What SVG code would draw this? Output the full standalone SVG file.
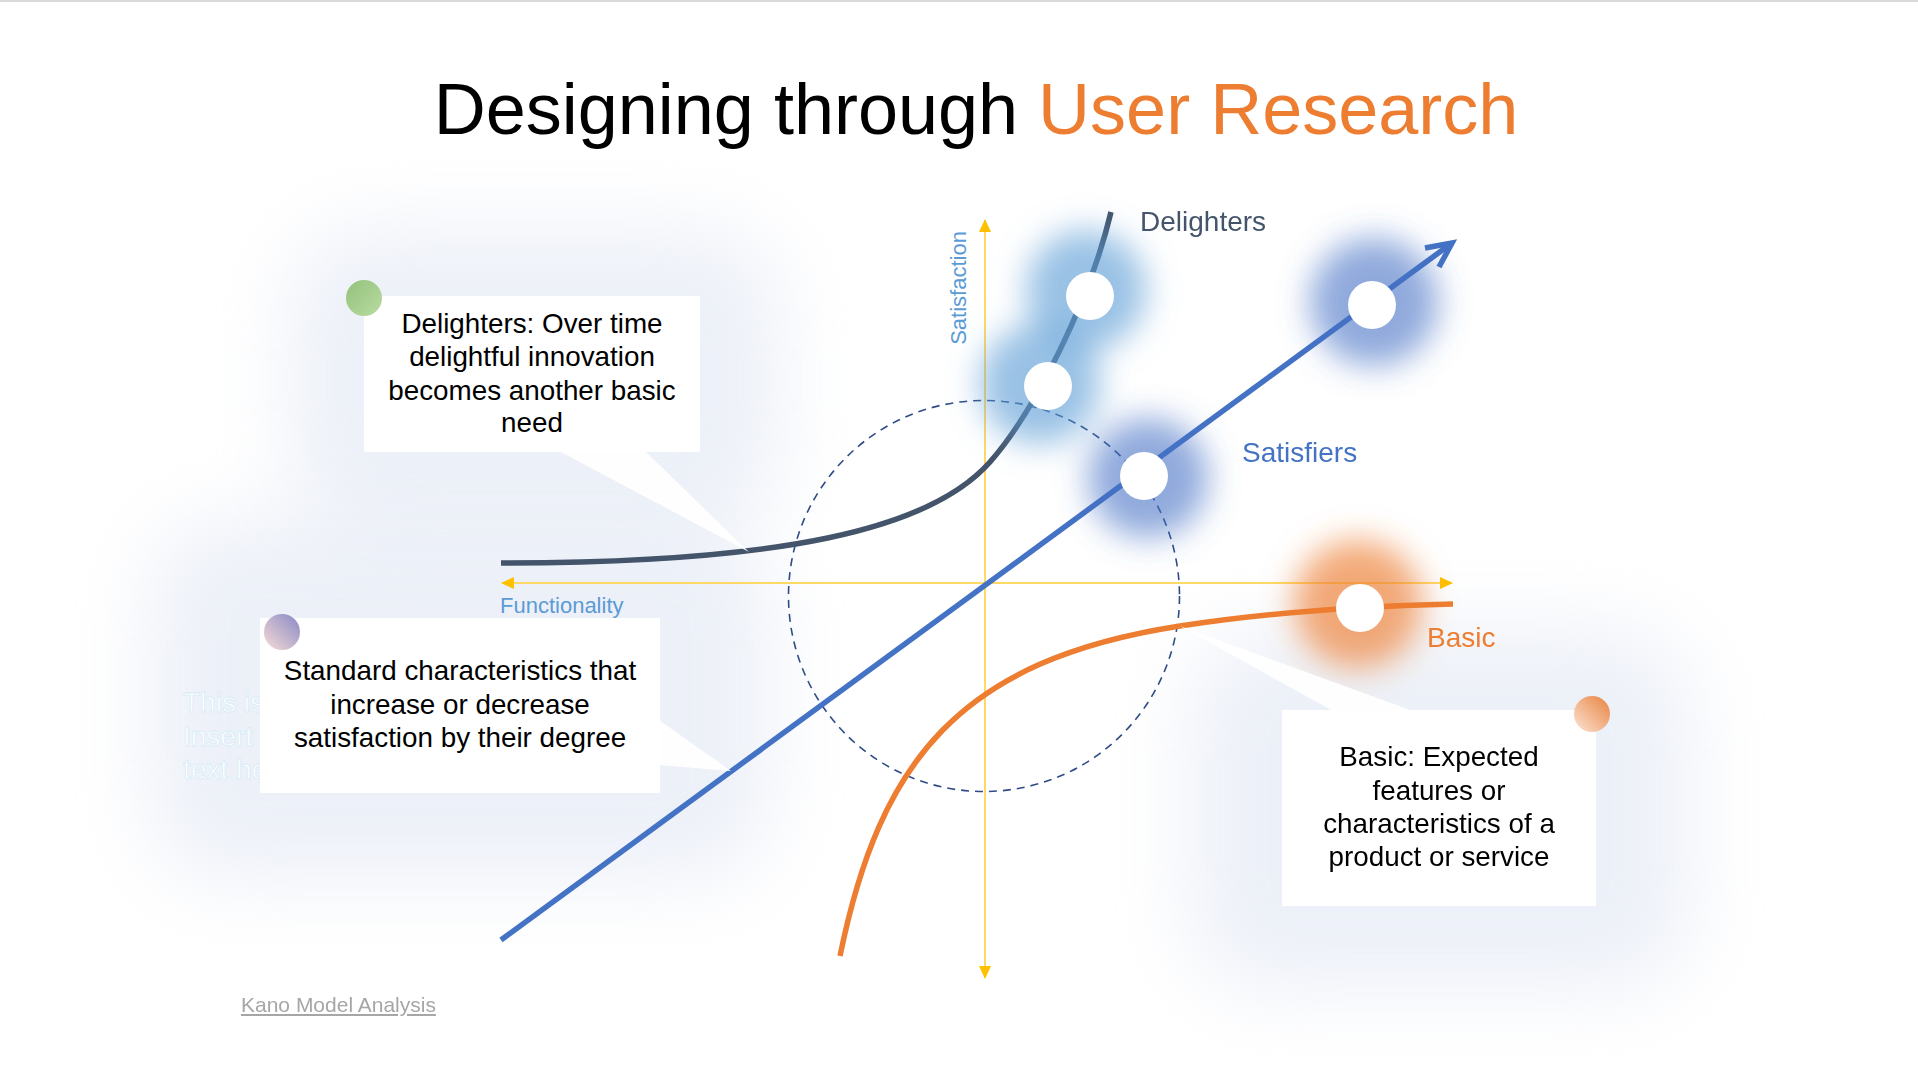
<svg xmlns="http://www.w3.org/2000/svg" width="1918" height="1080" viewBox="0 0 1918 1080">
  <style>
    text { font-family: "Liberation Sans", Arial, Helvetica, sans-serif; }
    .body { font-size: 27.8px; fill: #000000; text-anchor: middle; }
    .tag { font-size: 28px; }
    .axis-label { font-size: 22px; fill: #5B9BD5; }
    .axis { stroke: #FFD966; stroke-width: 2; fill: none; }
    .card { fill: #FFFFFF; }
    .tail { fill: #FFFFFF; opacity: 0.92; }
    .haze { fill: #D3DCEE; opacity: 0.42; filter: url(#haze); }
    .ghost { font-size: 28px; fill: #FFFFFF; stroke: #D6ECF8; stroke-width: 0.8; }
    .curve { fill: none; stroke-width: 5.5; }
    .point { fill: #FFFFFF; }
  </style>
  <defs>
    <filter id="haze" x="-50%" y="-50%" width="200%" height="200%">
      <feGaussianBlur stdDeviation="40"/>
    </filter>
    <filter id="glow" x="-80%" y="-80%" width="260%" height="260%">
      <feGaussianBlur stdDeviation="16"/>
    </filter>
    <marker id="axis-head" viewBox="0 0 13 12" markerUnits="userSpaceOnUse" markerWidth="13" markerHeight="12" refX="12" refY="6" orient="auto-start-reverse">
      <path d="M0,0 L13,6 L0,12 z" fill="#FFC000"/>
    </marker>
    <linearGradient id="dot-green" x1="0" y1="0" x2="1" y2="1">
      <stop offset="0" stop-color="#93C27A"/>
      <stop offset="1" stop-color="#B9DBA3"/>
    </linearGradient>
    <linearGradient id="dot-violet" x1="1" y1="0" x2="0" y2="1">
      <stop offset="0" stop-color="#8788C6"/>
      <stop offset="1" stop-color="#F8DCD4"/>
    </linearGradient>
    <linearGradient id="dot-orange" x1="1" y1="0" x2="0" y2="1">
      <stop offset="0" stop-color="#E8823F"/>
      <stop offset="1" stop-color="#FCE4D4"/>
    </linearGradient>
  </defs>

  <!-- page -->
  <rect x="0" y="0" width="1918" height="1080" fill="#FFFFFF"/>
  <rect x="0" y="0" width="1918" height="2" fill="#D9D9D9"/>

  <!-- soft shading behind the cards -->
  <g id="shading">
    <rect class="haze" x="290" y="230" width="490" height="300" rx="80"/>
    <rect class="haze" x="150" y="520" width="620" height="360" rx="80"/>
    <rect class="haze" x="1190" y="630" width="500" height="360" rx="80"/>
  </g>

  <!-- title -->
  <text x="976" y="134" font-size="72" text-anchor="middle" fill="#000000">Designing through <tspan fill="#ED7D31">User Research</tspan></text>

  <!-- faint placeholder text partly under the middle card -->
  <g id="placeholder">
    <text class="ghost" x="183" y="712">This is</text>
    <text class="ghost" x="183" y="746">Insert</text>
    <text class="ghost" x="183" y="779">text he</text>
  </g>

  <!-- axes -->
  <g id="axes">
    <line class="axis" x1="985" y1="220" x2="985" y2="978" marker-start="url(#axis-head)" marker-end="url(#axis-head)"/>
    <line class="axis" x1="502" y1="583" x2="1452" y2="583" marker-start="url(#axis-head)" marker-end="url(#axis-head)"/>
    <text class="axis-label" x="500" y="613">Functionality</text>
    <text class="axis-label" transform="translate(966,288) rotate(-90)" text-anchor="middle">Satisfaction</text>
  </g>

  <!-- zone of indifference -->
  <circle id="neutral-zone" cx="984" cy="596" r="195.5" fill="none" stroke="#2F4C86" stroke-width="1.6" stroke-dasharray="8 6"/>

  <!-- curves -->
  <g id="connectors">
    <path id="delighters-curve" class="curve" stroke="#44546A" d="M501,563 C780,563 930,530 990,462 C1035,411 1090,300 1111,212"/>
    <path id="satisfiers-line" class="curve" stroke="#4472C4" d="M501,940 L1452,243"/>
    <path id="satisfiers-head" class="curve" stroke="#4472C4" stroke-linejoin="miter" d="M1425,248 L1452,243 L1439,267"/>
    <path id="basic-curve" class="curve" stroke="#ED7D31" d="M840,956 C880,760 960,660 1180,626 C1270,612 1370,606 1453,604"/>
  </g>

  <!-- glows over the sample points -->
  <g id="glows" filter="url(#glow)">
    <circle cx="1086" cy="290" r="60" fill="#5B9BD5" opacity="0.62"/>
    <circle cx="1040" cy="384" r="60" fill="#5B9BD5" opacity="0.62"/>
    <circle cx="1148" cy="478" r="60" fill="#4472C4" opacity="0.6"/>
    <circle cx="1374" cy="302" r="64" fill="#4472C4" opacity="0.6"/>
    <circle cx="1358" cy="604" r="64" fill="#ED7D31" opacity="0.66"/>
  </g>

  <!-- sample points -->
  <g id="points">
    <circle id="pt-delight-1" class="point" cx="1090" cy="296" r="24"/>
    <circle id="pt-delight-2" class="point" cx="1048" cy="386" r="24"/>
    <circle id="pt-satisfy-1" class="point" cx="1144" cy="476" r="24"/>
    <circle id="pt-satisfy-2" class="point" cx="1372" cy="305" r="24"/>
    <circle id="pt-basic" class="point" cx="1360" cy="608" r="24"/>
  </g>

  <!-- curve labels -->
  <g id="labels">
    <text class="tag" x="1140" y="231" fill="#44546A">Delighters</text>
    <text class="tag" x="1242" y="462" fill="#4472C4">Satisfiers</text>
    <text class="tag" x="1427" y="647" fill="#ED7D31">Basic</text>
  </g>

  <!-- card: delighters -->
  <g id="card-delighters">
    <polygon class="tail" points="559,451 645,451 749,552"/>
    <rect class="card" x="364" y="296" width="336" height="156"/>
    <circle cx="364" cy="298" r="18" fill="url(#dot-green)"/>
    <text class="body" x="532" y="333">Delighters: Over time</text>
    <text class="body" x="532" y="366">delightful innovation</text>
    <text class="body" x="532" y="400">becomes another basic</text>
    <text class="body" x="532" y="432">need</text>
  </g>

  <!-- card: satisfiers -->
  <g id="card-satisfiers">
    <polygon class="tail" points="659,720 731,771 659,765"/>
    <rect class="card" x="260" y="618" width="400" height="175"/>
    <circle cx="282" cy="632" r="18" fill="url(#dot-violet)"/>
    <text class="body" x="460" y="680">Standard characteristics that</text>
    <text class="body" x="460" y="714">increase or decrease</text>
    <text class="body" x="460" y="747">satisfaction by their degree</text>
  </g>

  <!-- card: basic -->
  <g id="card-basic">
    <polygon class="tail" points="1333,711 1413,711 1180,626"/>
    <rect class="card" x="1282" y="710" width="314" height="196"/>
    <circle cx="1592" cy="714" r="18" fill="url(#dot-orange)"/>
    <text class="body" x="1439" y="766">Basic: Expected</text>
    <text class="body" x="1439" y="800">features or</text>
    <text class="body" x="1439" y="833">characteristics of a</text>
    <text class="body" x="1439" y="866">product or service</text>
  </g>

  <!-- source note -->
  <text id="source" x="241" y="1012" font-size="21" fill="#A6A6A6" text-decoration="underline">Kano Model Analysis</text>
</svg>
